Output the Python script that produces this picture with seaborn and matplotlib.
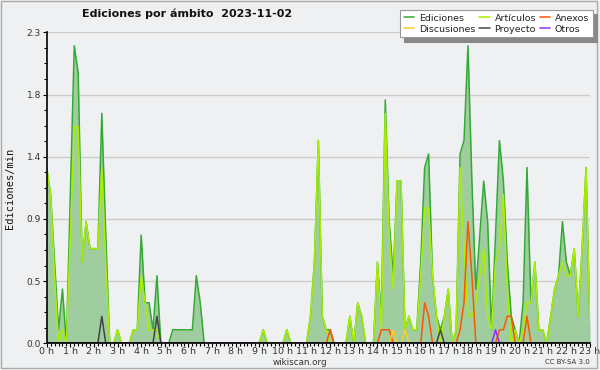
import numpy as np
import pandas as pd
import matplotlib
matplotlib.use("Agg")
import matplotlib.pyplot as plt
from matplotlib.ticker import FixedLocator, MultipleLocator
from matplotlib.lines import Line2D
from matplotlib.patches import Rectangle
import seaborn as sns

# ---- data: edits per minute, one value every 10 minutes from 00:00 to 23:00 ----
ediciones = [
    1.3, 1.1, 0.6, 0.1, 0.4, 0.0, 1.1, 2.2, 2.0, 0.6, 0.9, 0.7,
    0.7, 0.7, 1.7, 0.8, 0.0, 0.0, 0.1, 0.0, 0.0, 0.0, 0.1, 0.1,
    0.8, 0.3, 0.3, 0.1, 0.5, 0.0, 0.0, 0.0, 0.1, 0.1, 0.1, 0.1,
    0.1, 0.1, 0.5, 0.3, 0.0, 0.0, 0.0, 0.0, 0.0, 0.0, 0.0, 0.0,
    0.0, 0.0, 0.0, 0.0, 0.0, 0.0, 0.0, 0.1, 0.0, 0.0, 0.0, 0.0,
    0.0, 0.1, 0.0, 0.0, 0.0, 0.0, 0.0, 0.2, 0.6, 1.5, 0.2, 0.1,
    0.1, 0.0, 0.0, 0.0, 0.0, 0.2, 0.0, 0.3, 0.2, 0.0, 0.0, 0.0,
    0.6, 0.2, 1.8, 0.9, 0.5, 1.2, 1.2, 0.1, 0.2, 0.1, 0.1, 0.6,
    1.3, 1.4, 0.5, 0.2, 0.1, 0.2, 0.4, 0.0, 0.1, 1.4, 1.5, 2.2,
    1.2, 0.4, 0.8, 1.2, 0.9, 0.1, 0.8, 1.5, 1.2, 0.6, 0.2, 0.1,
    0.0, 0.3, 1.3, 0.3, 0.6, 0.1, 0.1, 0.0, 0.2, 0.4, 0.5, 0.9,
    0.6, 0.5, 0.7, 0.2, 0.7, 1.3, 0.1,
]
articulos = [
    1.3, 1.1, 0.5, 0.0, 0.1, 0.0, 0.8, 1.6, 1.6, 0.6, 0.9, 0.7,
    0.7, 0.7, 1.3, 0.6, 0.0, 0.0, 0.1, 0.0, 0.0, 0.0, 0.1, 0.1,
    0.5, 0.3, 0.1, 0.1, 0.1, 0.0, 0.0, 0.0, 0.0, 0.0, 0.0, 0.0,
    0.0, 0.0, 0.0, 0.0, 0.0, 0.0, 0.0, 0.0, 0.0, 0.0, 0.0, 0.0,
    0.0, 0.0, 0.0, 0.0, 0.0, 0.0, 0.0, 0.1, 0.0, 0.0, 0.0, 0.0,
    0.0, 0.1, 0.0, 0.0, 0.0, 0.0, 0.0, 0.2, 0.6, 1.5, 0.2, 0.1,
    0.0, 0.0, 0.0, 0.0, 0.0, 0.2, 0.0, 0.3, 0.2, 0.0, 0.0, 0.0,
    0.6, 0.1, 1.7, 0.8, 0.4, 1.2, 1.2, 0.1, 0.2, 0.1, 0.1, 0.5,
    1.0, 1.0, 0.5, 0.2, 0.0, 0.2, 0.4, 0.0, 0.1, 1.3, 0.7, 0.2,
    0.2, 0.3, 0.5, 0.7, 0.2, 0.1, 0.6, 0.7, 1.1, 0.4, 0.0, 0.1,
    0.0, 0.1, 0.3, 0.3, 0.6, 0.1, 0.1, 0.0, 0.2, 0.4, 0.5, 0.6,
    0.5, 0.5, 0.7, 0.2, 0.7, 1.3, 0.1,
]
anexos = [
    0.0, 0.0, 0.0, 0.0, 0.0, 0.0, 0.0, 0.0, 0.0, 0.0, 0.0, 0.0,
    0.0, 0.0, 0.0, 0.0, 0.0, 0.0, 0.0, 0.0, 0.0, 0.0, 0.0, 0.0,
    0.0, 0.0, 0.0, 0.0, 0.0, 0.0, 0.0, 0.0, 0.0, 0.0, 0.0, 0.0,
    0.0, 0.0, 0.0, 0.0, 0.0, 0.0, 0.0, 0.0, 0.0, 0.0, 0.0, 0.0,
    0.0, 0.0, 0.0, 0.0, 0.0, 0.0, 0.0, 0.0, 0.0, 0.0, 0.0, 0.0,
    0.0, 0.0, 0.0, 0.0, 0.0, 0.0, 0.0, 0.0, 0.0, 0.0, 0.0, 0.0,
    0.1, 0.0, 0.0, 0.0, 0.0, 0.0, 0.0, 0.0, 0.0, 0.0, 0.0, 0.0,
    0.0, 0.1, 0.1, 0.1, 0.0, 0.0, 0.0, 0.0, 0.0, 0.0, 0.0, 0.0,
    0.3, 0.2, 0.0, 0.0, 0.0, 0.0, 0.0, 0.0, 0.0, 0.1, 0.3, 0.9,
    0.5, 0.0, 0.0, 0.0, 0.0, 0.0, 0.0, 0.1, 0.1, 0.2, 0.2, 0.0,
    0.0, 0.0, 0.2, 0.0, 0.0, 0.0, 0.0, 0.0, 0.0, 0.0, 0.0, 0.0,
    0.0, 0.0, 0.0, 0.0, 0.0, 0.0, 0.0,
]
discusiones = [0.0] * 88 + [0.1, 0.0, 0.0, 0.1] + [0.0] * 47
proyecto = [0.0] * 14 + [0.2] + [0.0] * 13 + [0.2] + [0.0] * 71 + [0.1] + [0.0] * 38
otros = [0.0] * 114 + [0.1] + [0.0] * 24

hour_labels = [f"{h} h" for h in range(24)]
y_labels = ["0.0", "0.5", "0.9", "1.4", "1.8", "2.3"]

n = len(ediciones)
df = pd.DataFrame({
    "hora": np.arange(n) * 10 / 60.0,
    "Ediciones": ediciones,
    "Artículos": articulos,
    "Anexos": anexos,
    "Discusiones": discusiones,
    "Proyecto": proyecto,
    "Otros": otros,
})

colors = {
    "Ediciones": "#33aa33",
    "Artículos": "#aaee00",
    "Anexos": "#ff5500",
    "Discusiones": "#ffcc22",
    "Proyecto": "#444444",
    "Otros": "#8833ff",
}

sns.set_theme(style="white")
plt.rcParams["font.family"] = ["DejaVu Sans"]

bg = "#eff0f1"
fig = plt.figure(figsize=(6.0, 3.7), dpi=100, facecolor=bg)
ax = fig.add_axes([46.7 / 600, 1 - 343.3 / 370, (590 - 46.7) / 600, (343.3 - 32.3) / 370])
ax.set_facecolor(bg)

ymax = 2.3
yticks = [i * ymax / 5 for i in range(6)]
for yt in yticks[1:]:
    ax.axhline(yt, color="#cccccc", lw=1.0, zorder=0.5)

ax.fill_between(df["hora"], df["Ediciones"], color="#9fcd9f", lw=0, zorder=1)
for name in ["Ediciones", "Artículos", "Anexos", "Discusiones", "Proyecto", "Otros"]:
    sns.lineplot(data=df, x="hora", y=name, ax=ax, color=colors[name], lw=1.1,
                 zorder=2, legend=False)

ax.set_xlim(0, 23)
ax.set_ylim(0, ymax)
ax.xaxis.set_major_locator(FixedLocator(list(range(24))))
ax.set_xticklabels(hour_labels)
ax.xaxis.set_minor_locator(MultipleLocator(1 / 6))
ax.yaxis.set_major_locator(FixedLocator(yticks))
ax.set_yticklabels(y_labels)
ax.yaxis.set_minor_locator(MultipleLocator(ymax / 20))
ax.tick_params(axis="both", which="both", direction="out", color="black", width=0.8,
               bottom=True, left=True)
ax.tick_params(axis="x", which="major", length=2.6, labelsize=6.8, pad=0.3, labelcolor="#333333")
ax.tick_params(axis="x", which="minor", length=2.2)
ax.tick_params(axis="y", which="major", length=3.2, labelsize=6.5, pad=1, labelcolor="#333333")
ax.tick_params(axis="y", which="minor", length=2.4)
for s in ["top", "right"]:
    ax.spines[s].set_visible(False)
for s in ["left", "bottom"]:
    ax.spines[s].set_color("black")
    ax.spines[s].set_linewidth(1.2)
    ax.spines[s].set_zorder(3)
ax.set_xlabel("")
ax.set_ylabel("")

fig.text(10 / 600, 1 - 188 / 370, "Ediciones/min", rotation=90, ha="center", va="center",
         fontsize=7.5, family="DejaVu Sans Mono", color="#111111")
fig.text(187 / 600, 1 - 14 / 370, "Ediciones por ámbito  2023-11-02", ha="center", va="center",
         fontsize=8, fontweight="bold", color="#111111")
fig.text(300 / 600, 1 - 362.5 / 370, "wikiscan.org", ha="center", va="center",
         fontsize=6.3, color="#333333")
fig.text(590 / 600, 1 - 362.5 / 370, "CC BY-SA 3.0", ha="right", va="center",
         fontsize=5, color="#333333")

order = ["Ediciones", "Discusiones", "Artículos", "Proyecto", "Anexos", "Otros"]
handles = [Line2D([0], [0], color=colors[k], lw=1.1) for k in order]
leg = fig.legend(handles, order, loc="upper right", bbox_to_anchor=(593 / 600, 1 - 10 / 370),
                 ncol=3, fontsize=6.8, frameon=True, fancybox=False,
                 shadow={"ox": 3, "oy": -3, "color": "#888888", "alpha": 1.0},
                 handlelength=1.1, handletextpad=0.5, columnspacing=0.4,
                 labelspacing=0.2, borderpad=0.4, borderaxespad=0)
leg.get_frame().set_edgecolor("#999999")
leg.get_frame().set_facecolor("white")
leg.get_frame().set_linewidth(0.8)
for t in leg.get_texts():
    t.set_color("#222222")

fig.patches.append(Rectangle((1 / 600, 2 / 370), 596 / 600, 367 / 370, transform=fig.transFigure,
                             fill=False, edgecolor="#aaaaaa", lw=1.0))

fig.savefig("out.png", dpi=100, facecolor=bg)
